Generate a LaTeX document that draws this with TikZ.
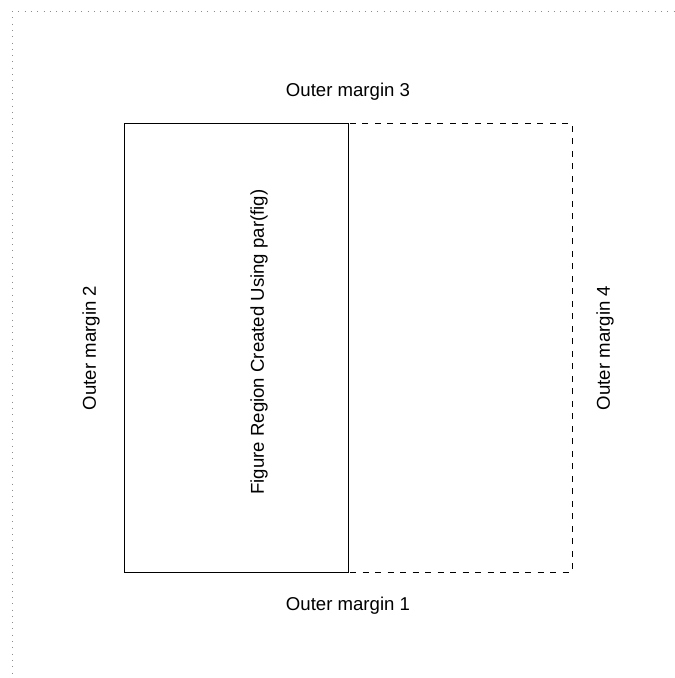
\documentclass[tikz,border=0pt]{standalone}
\usepackage{fontspec}
\setmainfont{Liberation Sans}
\tikzset{
  margen/.style={font=\fontsize{18.6}{20}\selectfont,inner sep=0pt},
}
\begin{document}
\begin{tikzpicture}[x=1pt,y=-1pt,line width=0.9pt]
    \useasboundingbox (0,0) rectangle (675,678);
    \coordinate (o) at (12,11);
    \coordinate (d) at (124,123);
    \coordinate (e) at (572,572);
    \coordinate (m) at (348,123);
    \coordinate (n) at (348,572);
    % Bordes
    \draw[black!45,dotted,line width=1pt,dash pattern=on 1pt off 5.3pt] (o) -- (675,11);
    \draw[black!45,dotted,line width=1pt,dash pattern=on 1pt off 5.3pt] (o) -- (12,678);
    \draw[black,dash pattern=on 6pt off 6.5pt] (d) rectangle (e);
    \draw[black] (d) rectangle (n);
    % Textos
    \node[margen] (m3) at (348,92) {Outer margin 3};
    \node[margen] (m1) at (348,606) {Outer margin 1};
    \node[margen,rotate=90] (m2) at (91,348) {Outer margin 2};
    \node[margen,rotate=90] (m4) at (605,348) {Outer margin 4};
    \node[margen,rotate=90] (fig) at (259,342) {Figure Region Created Using par(fig)};
  \end{tikzpicture}
\end{document}
